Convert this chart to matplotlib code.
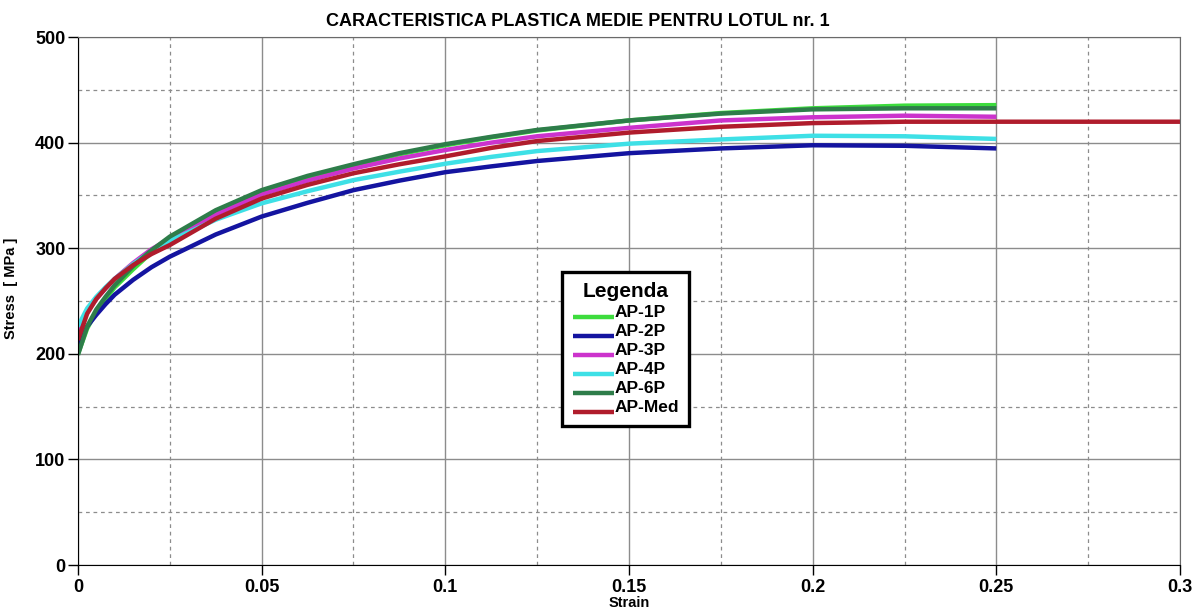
import numpy as np
import matplotlib
matplotlib.use('Agg')
from matplotlib import pyplot as plt
from matplotlib.ticker import MultipleLocator
from matplotlib.legend_handler import HandlerLine2D

plt.rcParams['font.family'] = ['Liberation Sans', 'DejaVu Sans']
plt.rcParams['font.weight'] = 'bold'

# deformatii (strain) la care s-au citit valorile
strain = [0, 0.0025, 0.005, 0.0075, 0.01, 0.015, 0.02, 0.025, 0.0375, 0.05,
          0.0625, 0.075, 0.0875, 0.1, 0.1125, 0.125, 0.15, 0.175, 0.2, 0.225, 0.25]
strain_med = strain + [0.3]

# tensiuni [MPa]
ap_1p = [200, 224, 240, 252, 263, 280, 296, 309, 334, 353,
         367, 378.5, 389, 397.5, 405, 411.5, 421, 428, 432.5, 435, 435.5]
ap_2p = [206, 226, 237, 247, 256, 270, 282, 292, 313, 330,
         343, 355, 364, 372, 377.5, 382.6, 390, 394.5, 397.5, 397, 394.5]
ap_3p = [221, 240, 252, 262, 271, 286, 299, 309, 332, 351,
         364, 375.5, 385, 393, 400, 406, 414, 421, 424, 425.5, 424.5]
ap_4p = [226, 243, 254, 263, 271, 285, 297, 307, 327, 342.5,
         354, 364.5, 372.5, 380, 386.5, 392, 399, 403, 406.5, 406, 403.5]
ap_6p = [199, 226, 242, 254, 265, 283, 298, 311, 336, 355,
         368.5, 379.5, 390, 398.5, 405.5, 412, 421, 427.5, 431.5, 432.5, 432.5]
ap_med = [213, 238, 252, 262, 271, 284, 294.5, 303, 328, 347,
          360, 371, 379.5, 387, 395, 401.5, 409.5, 415, 418.5, 419.8, 419.8, 419.8]

names = ['AP-1P', 'AP-2P', 'AP-3P', 'AP-4P', 'AP-6P', 'AP-Med']
culori = ['#3ddc3d', '#1414a0', '#cc33cc', '#3ee0e6', '#2e7d4a', '#b01c2c']


# liniile din legenda stau la baza textului
class HandlerJos(HandlerLine2D):
    def create_artists(self, legend, orig_handle, xdescent, ydescent,
                       width, height, fontsize, trans):
        return super().create_artists(legend, orig_handle, xdescent,
                                      ydescent + 0.9 * height, width, height,
                                      fontsize, trans)


fig = plt.figure(figsize=(11.94, 6.08), dpi=100)
ax = fig.add_axes([0.0653, 0.0707, 0.923, 0.8684])

serii = [(strain, ap_1p), (strain, ap_2p), (strain, ap_3p),
         (strain, ap_4p), (strain, ap_6p), (strain_med, ap_med)]
for (x, y), n, c in zip(serii, names, culori):
    ax.plot(x, y, color=c, lw=3.2, label=n, solid_capstyle='butt')

ax.set_xlim(0, 0.3)
ax.set_ylim(0, 500)
ax.xaxis.set_major_locator(MultipleLocator(0.05))
ax.xaxis.set_minor_locator(MultipleLocator(0.025))
ax.yaxis.set_major_locator(MultipleLocator(100))
ax.yaxis.set_minor_locator(MultipleLocator(50))
ax.set_xticks([0, 0.05, 0.1, 0.15, 0.2, 0.25, 0.3])
ax.set_xticklabels(['0', '0.05', '0.1', '0.15', '0.2', '0.25', '0.3'])

ax.grid(which='major', color='#8c8c8c', lw=1, ls='-')
ax.grid(which='minor', color='#8c8c8c', lw=0.9, ls=(0, (3, 3)))
ax.tick_params(which='major', direction='out', length=7, width=1,
               labelsize=13, pad=2)
ax.tick_params(axis='x', which='major', pad=3)
ax.tick_params(which='minor', length=0)
for lbl in ax.get_xticklabels() + ax.get_yticklabels():
    lbl.set_fontweight('bold')

for s in ['left', 'bottom']:
    ax.spines[s].set_color('black')
for s in ['top', 'right']:
    ax.spines[s].set_color('#6a6a6a')

ax.set_xlabel('Strain', fontsize=10.5, fontweight='bold')
ax.xaxis.set_label_coords(0.5, -0.058)
ax.set_ylabel('Stress  [ MPa ]', fontsize=10.5, fontweight='bold')
ax.yaxis.set_label_coords(-0.0545, 0.525)
fig.text(0.484, 0.965, 'CARACTERISTICA PLASTICA MEDIE PENTRU LOTUL nr. 1',
         ha='center', va='center', fontsize=13, fontweight='bold')

leg = ax.legend(loc='upper center', bbox_to_anchor=(0.497, 0.555),
                borderaxespad=0, title='Legenda', fancybox=False, framealpha=1,
                prop={'weight': 'bold', 'size': 12.5},
                title_fontproperties={'weight': 'bold', 'size': 15},
                handlelength=2.4, handletextpad=0.0, labelspacing=0.22,
                borderpad=0.6, edgecolor='black',
                handler_map={plt.Line2D: HandlerJos()})
leg.get_frame().set_linewidth(2.4)

fig.savefig('out.png', dpi=100)
